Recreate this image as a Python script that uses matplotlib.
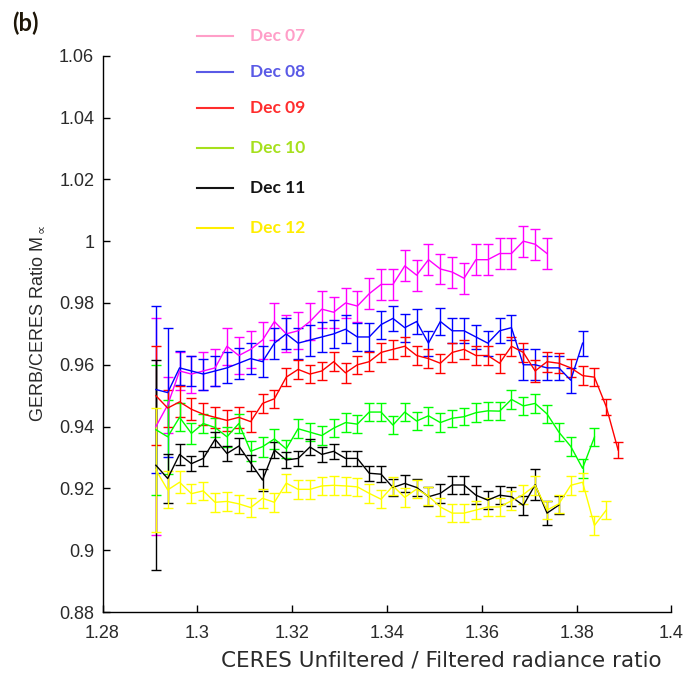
import matplotlib
matplotlib.use("Agg")
import matplotlib.pyplot as plt
from matplotlib.lines import Line2D

# bin centres of the unfiltered/filtered radiance ratio
x = [1.29125, 1.29375, 1.29625, 1.29875, 1.30125, 1.30375, 1.30625, 1.30875,
     1.31125, 1.31375, 1.31625, 1.31875, 1.32125, 1.32375, 1.32625, 1.32875,
     1.33125, 1.33375, 1.33625, 1.33875, 1.34125, 1.34375, 1.34625, 1.34875,
     1.35125, 1.35375, 1.35625, 1.35875, 1.36125, 1.36375, 1.36625, 1.36875,
     1.37125, 1.37375, 1.37625, 1.37875, 1.38125, 1.38375, 1.38625, 1.38875]

labels = ['Dec 07', 'Dec 08', 'Dec 09', 'Dec 10', 'Dec 11', 'Dec 12']

dec07 = [0.940, 0.947, 0.958, 0.957, 0.958, 0.959, 0.966, 0.963, 0.965, 0.968,
         0.974, 0.970, 0.971, 0.974, 0.978, 0.977, 0.980, 0.979, 0.983, 0.986,
         0.986, 0.992, 0.989, 0.994, 0.991, 0.990, 0.988, 0.994, 0.994, 0.996,
         0.996, 1.000, 0.999, 0.996]
err07 = [0.035, 0.009, 0.006, 0.006, 0.006, 0.006, 0.006, 0.006, 0.006, 0.006,
         0.006, 0.006, 0.006, 0.006, 0.006, 0.005, 0.005, 0.005, 0.005, 0.005,
         0.005, 0.005, 0.005, 0.005, 0.005, 0.005, 0.005, 0.005, 0.005, 0.005,
         0.005, 0.005, 0.005, 0.005]

dec08 = [0.952, 0.951, 0.959, 0.958, 0.957, 0.958, 0.959, 0.9605, 0.962, 0.961,
         0.967, 0.970, 0.967, 0.968, 0.969, 0.970, 0.9715, 0.969, 0.969, 0.973,
         0.975, 0.972, 0.974, 0.967, 0.974, 0.971, 0.971, 0.969, 0.967, 0.971,
         0.972, 0.960, 0.960, 0.959, 0.959, 0.955, 0.967]
err08 = [0.027, 0.021, 0.0055, 0.005, 0.005, 0.005, 0.005, 0.005, 0.005, 0.005,
         0.005, 0.005, 0.005, 0.005, 0.005, 0.0045, 0.0045, 0.0045, 0.0045, 0.0045,
         0.004, 0.0045, 0.004, 0.004, 0.0045, 0.004, 0.004, 0.004, 0.004, 0.004,
         0.004, 0.005, 0.005, 0.004, 0.004, 0.004, 0.004]

dec09 = [0.950, 0.946, 0.948, 0.9456, 0.944, 0.943, 0.942, 0.943, 0.9416, 0.9475,
         0.949, 0.956, 0.9585, 0.957, 0.958, 0.961, 0.9574, 0.960, 0.961, 0.964,
         0.965, 0.966, 0.963, 0.962, 0.9605, 0.964, 0.965, 0.963, 0.963, 0.9605,
         0.966, 0.964, 0.958, 0.961, 0.9605, 0.959, 0.9565, 0.956, 0.9464, 0.9324]
err09 = [0.016, 0.006, 0.005, 0.0035, 0.0035, 0.0035, 0.0035, 0.0035, 0.0035, 0.003,
         0.003, 0.003, 0.003, 0.003, 0.003, 0.003, 0.0032, 0.003, 0.003, 0.003,
         0.003, 0.003, 0.003, 0.003, 0.003, 0.003, 0.003, 0.003, 0.003, 0.003,
         0.003, 0.003, 0.0035, 0.0032, 0.0032, 0.003, 0.003, 0.003, 0.0025, 0.0027]

dec10 = [0.939, 0.9367, 0.943, 0.9378, 0.941, 0.9397, 0.9367, 0.941, 0.932, 0.9335,
         0.936, 0.9328, 0.9393, 0.9382, 0.9371, 0.9395, 0.9413, 0.9408, 0.9447, 0.9447,
         0.9405, 0.9447, 0.9418, 0.9435, 0.9413, 0.9427, 0.9432, 0.9445, 0.9451, 0.945,
         0.9488, 0.9467, 0.9475, 0.9441, 0.9382, 0.9336, 0.9265, 0.9366]
err10 = [0.021, 0.012, 0.0045, 0.0035, 0.0032, 0.0032, 0.0032, 0.0032, 0.0032, 0.0032,
         0.0032, 0.003, 0.003, 0.003, 0.003, 0.003, 0.003, 0.003, 0.003, 0.003,
         0.003, 0.003, 0.003, 0.003, 0.003, 0.0028, 0.0028, 0.003, 0.003, 0.003,
         0.003, 0.003, 0.003, 0.003, 0.003, 0.003, 0.003, 0.003]

dec11 = [0.9275, 0.9232, 0.931, 0.928, 0.9297, 0.9359, 0.9313, 0.9337, 0.9282, 0.9227,
         0.9324, 0.9292, 0.9297, 0.9334, 0.931, 0.932, 0.9297, 0.9297, 0.9249, 0.9246,
         0.9203, 0.9216, 0.9203, 0.9173, 0.9184, 0.9211, 0.9211, 0.9178, 0.9162, 0.9178,
         0.9173, 0.9145, 0.9212, 0.912, 0.9146]
err11 = [0.034, 0.008, 0.0035, 0.0025, 0.0025, 0.0025, 0.0025, 0.0025, 0.0025, 0.0035,
         0.0025, 0.0025, 0.0025, 0.0025, 0.0025, 0.0025, 0.0025, 0.0025, 0.0025, 0.0025,
         0.0028, 0.0028, 0.0028, 0.003, 0.003, 0.0028, 0.0028, 0.003, 0.003, 0.003,
         0.003, 0.003, 0.005, 0.004, 0.003]

dec12 = [0.926, 0.9195, 0.922, 0.9183, 0.9192, 0.9155, 0.9158, 0.915, 0.9138, 0.9168,
         0.9155, 0.9217, 0.9197, 0.9197, 0.9208, 0.921, 0.9208, 0.9205, 0.9184, 0.9165,
         0.9208, 0.9171, 0.9198, 0.9175, 0.914, 0.912, 0.912, 0.913, 0.914, 0.914,
         0.916, 0.918, 0.921, 0.913, 0.915, 0.921, 0.922, 0.908, 0.913]
err12 = [0.020, 0.006, 0.0035, 0.003, 0.003, 0.003, 0.003, 0.003, 0.003, 0.003,
         0.003, 0.003, 0.003, 0.003, 0.003, 0.003, 0.003, 0.003, 0.003, 0.003,
         0.003, 0.003, 0.003, 0.003, 0.003, 0.003, 0.003, 0.003, 0.003, 0.003,
         0.003, 0.003, 0.003, 0.003, 0.003, 0.003, 0.003, 0.003, 0.003]

series = [dec07, dec08, dec09, dec10, dec11, dec12]
errors = [err07, err08, err09, err10, err11, err12]
line_colors = ['#ff00ff', '#0000ff', '#ff0000', '#00ff00', '#000000', '#ffff00']
legend_colors = ['#ff9ec8', '#5a5ae6', '#ff2d2d', '#a6e01c', '#141414', '#ffee00']

xticks = [1.28, 1.3, 1.32, 1.34, 1.36, 1.38, 1.4]
yticks = [0.88, 0.9, 0.92, 0.94, 0.96, 0.98, 1, 1.02, 1.04, 1.06]

fig = plt.figure(figsize=(6.88, 6.73), dpi=100)
ax = fig.add_axes([0.149, 0.0906, 0.827, 0.8266])

for yv, ev, c in zip(series, errors, line_colors):
    n = len(yv)
    ax.errorbar(x[:n], yv, yerr=ev, color=c, lw=1.0, elinewidth=1.0,
                capsize=3.8, capthick=1.0)

ax.set_xlim(1.28, 1.4)
ax.set_ylim(0.88, 1.06)
ax.set_xticks(xticks)
ax.set_xticklabels(['%g' % t for t in xticks])
ax.set_yticks(yticks)
ax.set_yticklabels(['%g' % t for t in yticks])
for s in ['top', 'right']:
    ax.spines[s].set_visible(False)
for s in ['left', 'bottom']:
    ax.spines[s].set_linewidth(1.0)
ax.tick_params(axis='both', direction='in', length=5, width=1.0,
               labelsize=13, labelcolor='#2a2a2a')
ax.tick_params(axis='x', pad=9)
ax.tick_params(axis='y', pad=6)
for lab in ax.get_xticklabels() + ax.get_yticklabels():
    lab.set_family('Liberation Sans')

fig.text(37 / 688, 1 - 323 / 673, 'GERB/CERES Ratio M$_{\\propto}$', rotation=90,
         ha='center', va='center', fontsize=13, family='Liberation Sans',
         color='#2a2a2a')
fig.text(662 / 688, 1 - 660 / 673, 'CERES Unfiltered / Filtered radiance ratio',
         ha='right', va='center', fontsize=15.5, family='DejaVu Sans', color='#2a2a2a')
fig.text(12 / 688, 1 - 23 / 673, '(b)', ha='left', va='center', fontsize=17,
         fontweight='bold', family='Lato', color='#1e1608')

# hand placed legend, as in the original figure
rows = [36, 72, 108, 148, 188, 228]
for lab, c, yp in zip(labels, legend_colors, rows):
    fy = 1 - yp / 673
    fig.add_artist(Line2D([197 / 688, 233 / 688], [fy, fy], color=c, lw=1.5,
                          transform=fig.transFigure))
    fig.text(250 / 688, fy, lab, ha='left', va='center', fontsize=12.5,
             fontweight='bold', family='Lato', color=c)

fig.savefig('out.png', dpi=100)
